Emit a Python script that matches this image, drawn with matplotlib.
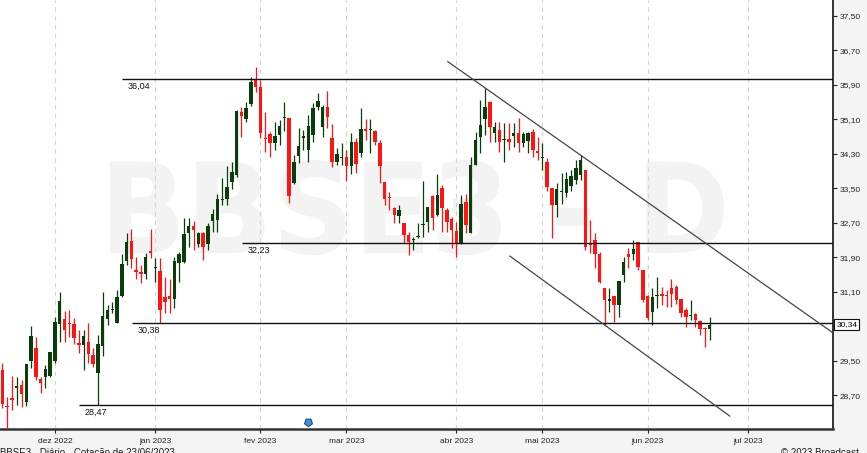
import numpy as np
import pandas as pd
import matplotlib
matplotlib.use("Agg")
import matplotlib.pyplot as plt
from matplotlib.textpath import TextPath
from matplotlib.patches import PathPatch
from matplotlib.font_manager import FontProperties
from matplotlib.transforms import Affine2D, blended_transform_factory

# daily candles BBSE3, 16/11/2022 .. 21/06/2023
opens = [29.30, 28.45, 28.64, 28.88, 28.94, 28.55, 29.50, 29.80, 29.08, 29.13,
         29.15, 29.50, 30.35, 30.48, 30.37, 30.35, 29.92, 29.87, 29.94, 29.63,
         29.23, 29.85, 30.47, 30.68, 30.39, 31.01, 31.82, 32.29, 31.61, 31.57,
         31.51, 32.05, 31.66, 31.59, 30.97, 31.00, 30.93, 31.78, 31.79, 32.46,
         32.63, 32.21, 32.46, 32.22, 32.75, 32.77, 33.24, 33.25, 33.66, 33.81,
         35.28, 35.10, 35.45, 36.02, 35.86, 34.68, 34.76, 34.56, 34.74, 35.13,
         35.13, 33.62, 34.25, 34.68, 34.39, 34.74, 35.38, 34.92, 35.38, 34.66,
         34.12, 34.20, 34.22, 34.02, 34.58, 34.33, 34.88, 34.85, 34.83, 34.56,
         33.66, 33.31, 33.04, 32.86, 32.70, 32.42, 32.30, 32.37, 32.65, 32.73,
         33.32, 32.88, 33.50, 33.00, 32.78, 32.51, 32.21, 33.19, 32.47, 34.04,
         34.70, 35.12, 35.51, 34.79, 34.86, 34.62, 34.64, 34.72, 34.79, 34.56,
         34.61, 34.82, 34.36, 34.21, 34.12, 33.52, 33.11, 33.42, 33.40, 33.56,
         33.70, 33.81, 33.93, 32.23, 32.30, 31.99, 31.18, 30.90, 31.00, 30.79,
         31.49, 31.99, 31.99, 32.26, 31.61, 31.00, 30.64, 31.00, 31.05, 31.01,
         31.18, 31.22, 30.93, 30.68, 30.55, 30.59, 30.43, 30.27, 30.25]
highs = [29.44, 28.67, 29.15, 29.13, 29.05, 29.42, 30.32, 30.06, 29.13, 29.40,
         29.71, 30.52, 31.09, 30.66, 30.68, 30.49, 30.21, 30.21, 30.39, 29.81,
         30.10, 31.10, 30.80, 30.87, 31.14, 31.99, 32.46, 32.55, 31.92, 31.72,
         32.00, 32.57, 31.88, 31.88, 31.45, 31.41, 31.92, 32.03, 32.81, 32.81,
         32.75, 32.50, 32.50, 32.69, 33.02, 33.38, 33.73, 34.02, 34.12, 35.32,
         35.38, 35.51, 36.09, 36.32, 36.01, 35.28, 34.82, 35.05, 35.09, 35.51,
         35.13, 34.27, 34.89, 34.85, 35.20, 35.47, 35.71, 35.44, 35.77, 35.00,
         34.43, 34.55, 34.39, 34.78, 34.66, 35.36, 35.12, 35.12, 34.86, 34.62,
         33.66, 33.42, 33.08, 33.12, 32.70, 32.50, 32.38, 32.69, 33.68, 33.08,
         33.35, 33.83, 33.58, 33.04, 32.84, 32.73, 33.35, 33.37, 34.22, 34.82,
         35.55, 35.82, 35.53, 35.05, 35.05, 35.01, 35.01, 35.01, 35.13, 34.82,
         34.82, 34.87, 34.70, 34.55, 34.20, 33.52, 33.62, 33.85, 33.89, 33.93,
         34.16, 34.28, 33.93, 32.77, 32.46, 32.03, 31.18, 31.18, 31.00, 31.36,
         31.92, 32.11, 32.30, 32.26, 31.61, 31.03, 31.18, 31.44, 31.22, 31.14,
         31.41, 31.26, 30.93, 30.72, 30.91, 30.62, 30.45, 30.29, 30.52]
lows = [28.40, 27.85, 28.36, 28.47, 28.44, 28.46, 29.33, 29.05, 28.76, 28.86,
        29.13, 29.44, 29.94, 29.94, 30.06, 29.90, 29.69, 29.30, 29.44, 29.36,
        28.47, 29.61, 30.33, 30.60, 30.37, 30.99, 31.72, 31.65, 31.41, 31.31,
        31.41, 31.88, 31.34, 30.38, 30.60, 30.60, 30.72, 31.34, 31.76, 32.15,
        32.07, 32.15, 31.84, 32.07, 32.50, 32.50, 33.12, 33.12, 33.48, 33.77,
        34.70, 35.05, 35.40, 35.74, 34.68, 34.35, 34.22, 34.39, 34.51, 34.84,
        33.17, 33.60, 34.08, 34.39, 34.12, 34.58, 35.32, 34.69, 34.89, 34.00,
        34.04, 34.04, 33.68, 33.83, 33.85, 34.22, 34.62, 34.31, 34.51, 33.63,
        33.12, 33.00, 32.69, 32.69, 32.23, 31.95, 32.07, 32.34, 32.38, 32.50,
        32.54, 32.85, 32.50, 32.50, 32.11, 31.90, 32.20, 32.46, 32.46, 34.04,
        34.31, 34.74, 34.58, 34.58, 34.35, 34.12, 34.39, 34.47, 34.35, 34.45,
        34.33, 34.22, 34.16, 33.93, 33.45, 32.34, 32.84, 33.15, 33.30, 33.45,
        33.60, 33.70, 32.07, 32.00, 31.65, 31.30, 30.33, 30.64, 30.41, 30.52,
        31.34, 31.65, 31.84, 31.61, 30.87, 30.45, 30.33, 30.72, 30.80, 30.76,
        30.76, 30.83, 30.52, 30.29, 30.45, 30.29, 30.10, 29.83, 29.98]
closes = [28.51, 28.42, 28.60, 28.92, 28.73, 29.42, 30.08, 29.13, 28.98, 29.31,
          29.70, 30.40, 30.90, 30.21, 30.36, 30.04, 29.87, 30.08, 29.66, 29.43,
          29.88, 30.54, 30.68, 30.70, 30.97, 31.75, 32.25, 31.86, 31.57, 31.51,
          31.92, 32.00, 31.67, 30.69, 30.86, 30.93, 31.82, 31.98, 32.44, 32.63,
          32.53, 32.46, 32.15, 32.63, 32.91, 33.25, 33.25, 33.53, 33.87, 35.30,
          35.19, 35.36, 35.96, 35.86, 34.78, 34.64, 34.56, 34.72, 34.95, 35.14,
          33.32, 34.12, 34.48, 34.69, 34.95, 35.36, 35.53, 35.38, 35.16, 34.12,
          34.30, 34.22, 34.02, 34.58, 34.06, 34.88, 34.84, 34.86, 34.58, 34.02,
          33.25, 33.27, 32.88, 33.00, 32.42, 32.26, 32.31, 32.38, 32.66, 33.06,
          32.81, 33.35, 33.04, 32.72, 32.53, 32.23, 33.15, 32.65, 34.04, 34.62,
          34.97, 35.38, 34.93, 34.92, 34.58, 34.63, 34.58, 34.78, 34.56, 34.76,
          34.79, 34.38, 34.33, 34.22, 33.54, 33.11, 33.48, 33.43, 33.71, 33.79,
          33.97, 34.16, 32.15, 32.18, 31.99, 31.34, 30.91, 30.91, 30.79, 31.36,
          31.80, 31.90, 32.09, 31.68, 30.91, 30.49, 30.97, 31.03, 31.00, 31.00,
          31.06, 30.91, 30.62, 30.52, 30.56, 30.45, 30.25, 30.23, 30.34]

# B3 holidays in the period
holidays = ["2022-12-30", "2023-02-20", "2023-02-21", "2023-04-07",
            "2023-04-21", "2023-05-01", "2023-06-08"]
month_names = ["jan", "fev", "mar", "abr", "mai", "jun",
               "jul", "ago", "set", "out", "nov", "dez"]

# support / resistance levels: (price, first index)
levels = [(36.04, 25.0), (32.23, 50.1), (30.38, 27.1), (28.47, 16.0)]
# trend lines (index, price) pairs
trend_upper = ([93.2, 173.8], [36.44, 30.15])
trend_lower = ([106.2, 152.2], [31.93, 28.22])
last_price = 30.34

W, H = 867, 453
XMIN, XMAX = -0.5, 173.8
YMIN, YMAX = 27.92, 37.87

cal = pd.bdate_range("2022-11-16", "2023-07-31")
cal = cal[~cal.isin(pd.to_datetime(holidays))]
n = len(closes)
x = np.arange(n)

fig = plt.figure(figsize=(W / 100, H / 100), dpi=100, facecolor="#f4f4f4")
ax = fig.add_axes([0, 24 / H, 833 / W, 1 - 24 / H])
ax.set_facecolor("white")

# watermark
wm = TextPath((0, 0), "BBSE3 - D", size=100,
              prop=FontProperties(family="DejaVu Sans", weight="bold"))
ext = wm.get_extents()
tr = (Affine2D().translate(-ext.x0, -ext.y0)
      .scale(614 / ext.width / W, 95 / ext.height / H)
      .translate(110 / W, 198 / H) + fig.transFigure)
ax.add_patch(PathPatch(wm, transform=tr, facecolor="#f3f3f3",
                       edgecolor="none", zorder=0))

green = "#0b3d0b"
red = "#ff1414"
for i in x:
    o, h, l, c = opens[i], highs[i], lows[i], closes[i]
    col = green if c >= o else red
    ax.vlines(i, l, h, color=col, lw=0.9, zorder=3)
    ax.bar(i, max(abs(c - o), 0.025), bottom=min(o, c), width=0.72,
           color=col, linewidth=0, zorder=4)

for lv, x0 in levels:
    ax.hlines(lv, x0, XMAX, color="#111111", lw=1.0, zorder=5)
    ax.text(x0 + 1.2, lv - 0.07, f"{lv:.2f}".replace(".", ","),
            fontsize=6.5, family="Liberation Sans", color="#111111",
            va="top", ha="left", zorder=6)

ax.plot(*trend_upper, color="#444444", lw=0.9, zorder=5)
ax.plot(*trend_lower, color="#444444", lw=0.9, zorder=5)

# dividend marker
ax.plot(64, 28.08, marker=(5, 0, 180), ms=6, mfc="#3b8fd9", mec="#1d4f7d",
        mew=0.8, clip_on=False, zorder=7)

# month ticks
ticks, labels = [], []
for i in range(1, len(cal)):
    if cal[i].month != cal[i - 1].month and i < XMAX:
        ticks.append(i)
        labels.append(f"{month_names[cal[i].month - 1]} {cal[i].year}")
ax.set_xticks(ticks)
ax.set_xticklabels(labels)
ax.grid(axis="x", color="#d4d4d4", ls=(0, (4, 4)), lw=0.8, zorder=1)

yt = np.arange(28.7, 37.51, 0.8)
ax.set_yticks(yt)
ax.set_yticklabels([f"{v:.2f}".replace(".", ",") for v in yt])
ax.yaxis.tick_right()
ax.tick_params(axis="y", direction="out", length=3, pad=2, labelsize=6,
               colors="#222222", width=0.8)
ax.tick_params(axis="x", direction="out", length=3, pad=3.5, labelsize=6,
               colors="#222222", width=0.8)
for t in ax.get_xticklabels() + ax.get_yticklabels():
    t.set_family("Liberation Sans")

ax.set_xlim(XMIN, XMAX)
ax.set_ylim(YMIN, YMAX)
for s in ["left", "top"]:
    ax.spines[s].set_visible(False)
ax.spines["bottom"].set_linewidth(1.8)
ax.spines["bottom"].set_color("#333333")
ax.spines["right"].set_linewidth(1.2)
ax.spines["right"].set_color("#111111")

# last price box
bt = blended_transform_factory(ax.transAxes, ax.transData)
ax.text(1.004, last_price, f"{last_price:.2f}".replace(".", ","),
        transform=bt, fontsize=6, family="Liberation Sans", va="center",
        ha="left", clip_on=False, zorder=8,
        bbox=dict(boxstyle="square,pad=0.25", fc="white", ec="#111111", lw=0.8))

fig.text(0.0, 4.5 / H, "BBSE3 - Diário - Cotação de 23/06/2023", fontsize=7,
         family="Liberation Sans", va="top", ha="left", color="#222222")
fig.text(781 / W, 4.5 / H, "© 2023 Broadcast", fontsize=7,
         family="Liberation Sans", va="top", ha="left", color="#222222")

fig.savefig("out.png", dpi=100, facecolor=fig.get_facecolor())
